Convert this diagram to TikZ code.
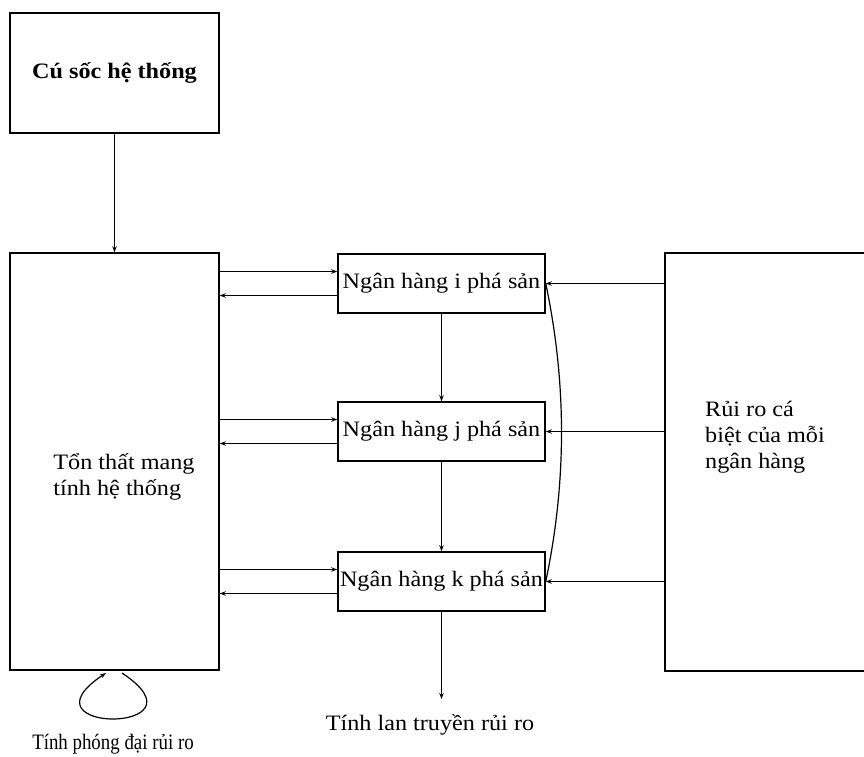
\documentclass[tikz,border=0pt]{standalone}
\usepackage{fontspec}
\setmainfont{Liberation Serif}[FakeStretch=1.1]
\usetikzlibrary{arrows.meta,calc}
\begin{document}
\begin{tikzpicture}[x=1pt,y=-1pt,
  box/.style={draw,line width=1.5pt,rectangle,inner sep=0pt},
  bank/.style={box,minimum width=207pt,minimum height=59pt,font=\fontsize{22}{24}\selectfont},
  lbl/.style={inner sep=0pt,font=\fontsize{22}{26}\selectfont,align=left},
  arr/.style={line width=1.2pt,-{Stealth[length=6pt,width=4.5pt]}},
  ln/.style={line width=1.2pt}]
\useasboundingbox (0,0) rectangle (864,756);
% boxes
\node[box,minimum width=209pt,minimum height=120pt,font=\bfseries\fontsize{22}{24}\selectfont] (shock) at (114.5,73) {Cú sốc hệ thống};
\node[box,minimum width=209pt,minimum height=417pt] (loss) at (114.5,461.5) {};
\node[lbl] (losstext) at (124,477) {Tổn thất mang\\tính hệ thống};
\node[bank] (bi) at (441.5,283.5) {Ngân hàng i phá sản};
\node[bank] (bj) at (441.5,431.5) {Ngân hàng j phá sản};
\node[bank] (bk) at (441.5,581.5) {Ngân hàng k phá sản};
\node[inner sep=0pt,minimum width=199pt,minimum height=418pt] (risk) at (764.5,462) {};
\draw[line width=1.5pt] (risk.north east) -- (risk.north west) -- (risk.south west) -- (risk.south east);
\node[lbl] (risktext) at (765,437) {Rủi ro cá\\biệt của mỗi\\ngân hàng};
% shock to loss
\draw[arr] (shock.south) -- (loss.north);
% loss <-> banks
\foreach \b in {bi,bj,bk}{
  \coordinate (\b-in) at ($(\b.west)+(0,-12)$);
  \coordinate (\b-out) at ($(\b.west)+(0,12)$);
  \draw[arr] (\b-in -| loss.east) -- (\b-in);
  \draw[arr] (\b-out) -- (\b-out -| loss.east);
  \draw[arr] (\b.east -| risk.west) -- (\b.east);
}
% vertical chain
\draw[arr] (bi.south) -- (bj.north);
\draw[arr] (bj.south) -- (bk.north);
\coordinate (spread) at (441.5,699);
\draw[arr] (bk.south) -- (spread);
% curve between i and k
\draw[ln] (bi.east) .. controls ($(bi.east)+(21,100)$) and ($(bk.east)+(21,-100)$) .. (bk.east);
% self loop
\coordinate (lpa) at (122,673);
\coordinate (lpb) at (106,673);
\draw[arr] (lpa) .. controls (214,734) and (14,734) .. (lpb);
% bottom labels
\node[inner sep=0pt,anchor=base,font=\fontsize{22}{24}\selectfont] (amp) at (113,749) {\scalebox{0.78}[1]{Tính phóng đại rủi ro}};
\node[inner sep=0pt,anchor=base,font=\fontsize{22}{24}\selectfont] (spr) at (430,730) {Tính lan truyền rủi ro};
\end{tikzpicture}
\end{document}
